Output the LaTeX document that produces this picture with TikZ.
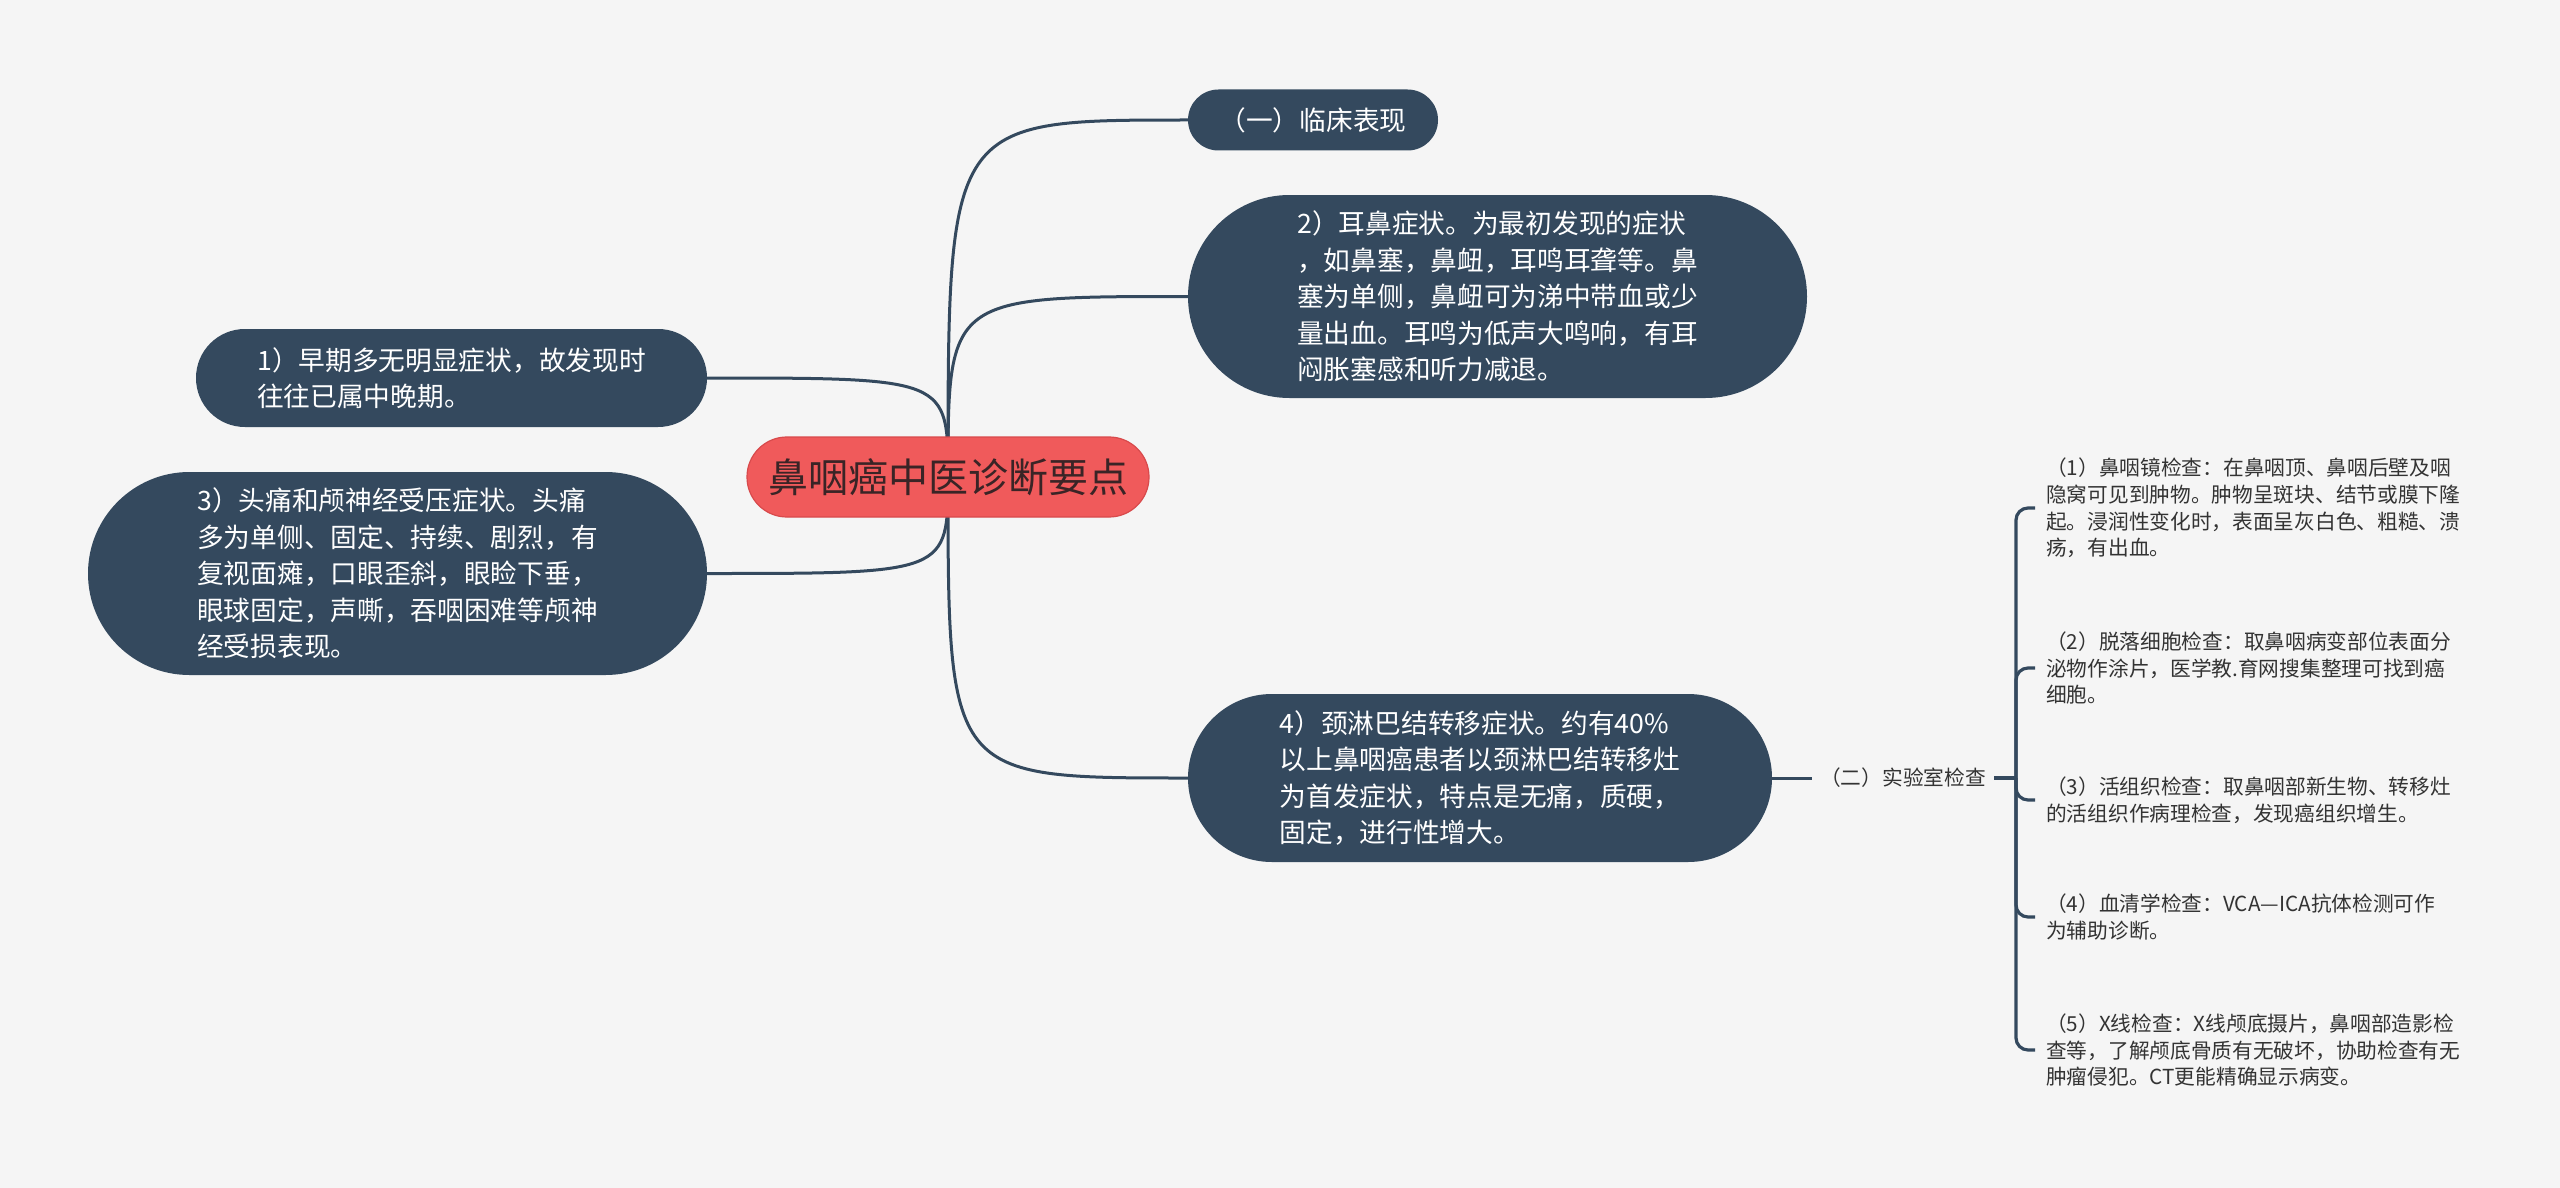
\documentclass[tikz,border=0pt]{standalone}
\usepackage{fontspec}
\setmainfont{Noto Sans CJK SC}
\definecolor{bgc}{HTML}{F5F5F5}
\definecolor{navy}{HTML}{34495E}
\definecolor{redc}{HTML}{F05A5B}
\definecolor{redd}{HTML}{D84A4C}
\definecolor{ctext}{HTML}{3A2426}
\definecolor{leaftext}{HTML}{333333}
\pgfdeclarelayer{bglayer}
\pgfdeclarelayer{linelayer}
\pgfsetlayers{bglayer,linelayer,main}
\begin{document}
\begin{tikzpicture}[x=1pt,y=-1pt,
  pill/.style={fill=navy, text=white, align=left, inner sep=0pt,
    font=\fontsize{26.7}{36.5}\selectfont},
  centre/.style={fill=redc, draw=redd, line width=1.2pt, text=ctext, inner sep=0pt,
    minimum width=402pt, minimum height=80pt, rounded corners=39.9pt,
    font=\fontsize{40}{48}\selectfont},
  leaf/.style={anchor=west, align=left, text=leaftext, inner xsep=11pt, inner ysep=0pt,
    font=\fontsize{20.7}{26.7}\selectfont},
  lab/.style={text=leaftext, inner xsep=8pt, inner ysep=2pt, font=\fontsize{20.7}{26.7}\selectfont},
  conn/.style={draw=navy, line width=3pt},
  brk/.style={draw=navy, line width=3.2pt, rounded corners=12pt}]
\begin{pgfonlayer}{bglayer}
\fill[bgc] (0,0) rectangle (2560,1188);
\end{pgfonlayer}
\useasboundingbox (0,0) rectangle (2560,1188);

\node[centre] (c) at (948,477) {鼻咽癌中医诊断要点};

\node[pill, minimum width=250pt, minimum height=61pt, rounded corners=30.4pt] (a) at (1313,120) {（一）临床表现};
\node[pill, minimum width=619pt, minimum height=203pt, rounded corners=101.4pt] (b) at (1497.5,296.5)
 {2）耳鼻症状。为最初发现的症状\\，如鼻塞，鼻衄，耳鸣耳聋等。鼻\\塞为单侧，鼻衄可为涕中带血或少\\量出血。耳鸣为低声大鸣响，有耳\\闷胀塞感和听力减退。};
\node[pill, minimum width=511pt, minimum height=98pt, rounded corners=48.9pt] (d) at (451.5,378)
 {1）早期多无明显症状，故发现时\\往往已属中晚期。};
\node[pill, minimum width=619pt, minimum height=203pt, rounded corners=101.4pt] (e) at (397.5,573.5)
 {3）头痛和颅神经受压症状。头痛\\多为单侧、固定、持续、剧烈，有\\复视面瘫，口眼歪斜，眼睑下垂，\\眼球固定，声嘶，吞咽困难等颅神\\经受损表现。};
\node[pill, minimum width=584pt, minimum height=168pt, rounded corners=83.9pt] (f) at (1480,778)
 {4）颈淋巴结转移症状。约有40\%\\以上鼻咽癌患者以颈淋巴结转移灶\\为首发症状，特点是无痛，质硬，\\固定，进行性增大。};

\node[lab] (g) at (1903,778) {（二）实验室检查};
\coordinate (jn) at (2016,778);

\node[leaf] (l1) at (2035,508) {（1）鼻咽镜检查：在鼻咽顶、鼻咽后壁及咽\\隐窝可见到肿物。肿物呈斑块、结节或膜下隆\\起。浸润性变化时，表面呈灰白色、粗糙、溃\\疡，有出血。};
\node[leaf] (l2) at (2035,668) {（2）脱落细胞检查：取鼻咽病变部位表面分\\泌物作涂片，医学教.育网搜集整理可找到癌\\细胞。};
\node[leaf] (l3) at (2035,800) {（3）活组织检查：取鼻咽部新生物、转移灶\\的活组织作病理检查，发现癌组织增生。};
\node[leaf] (l4) at (2035,917) {（4）血清学检查：VCA—ICA抗体检测可作\\为辅助诊断。};
\node[leaf] (l5) at (2035,1050) {（5）X线检查：X线颅底摄片，鼻咽部造影检\\查等，了解颅底骨质有无破坏，协助检查有无\\肿瘤侵犯。CT更能精确显示病变。};

\begin{pgfonlayer}{linelayer}
\foreach \t in {a,b,f}
  \draw[conn] (c.center) .. controls (c.center |- \t.west) .. (\t.west);
\foreach \t in {d,e}
  \draw[conn] (c.center) .. controls (c.center |- \t.east) .. (\t.east);
\draw[conn] (f.east) -- (g.west);
\draw[brk] (g.east) -- (jn);
\foreach \t in {l1,l2,l3,l4,l5}
  \draw[brk] (jn) |- (\t.west);
\end{pgfonlayer}
\end{tikzpicture}
\end{document}
